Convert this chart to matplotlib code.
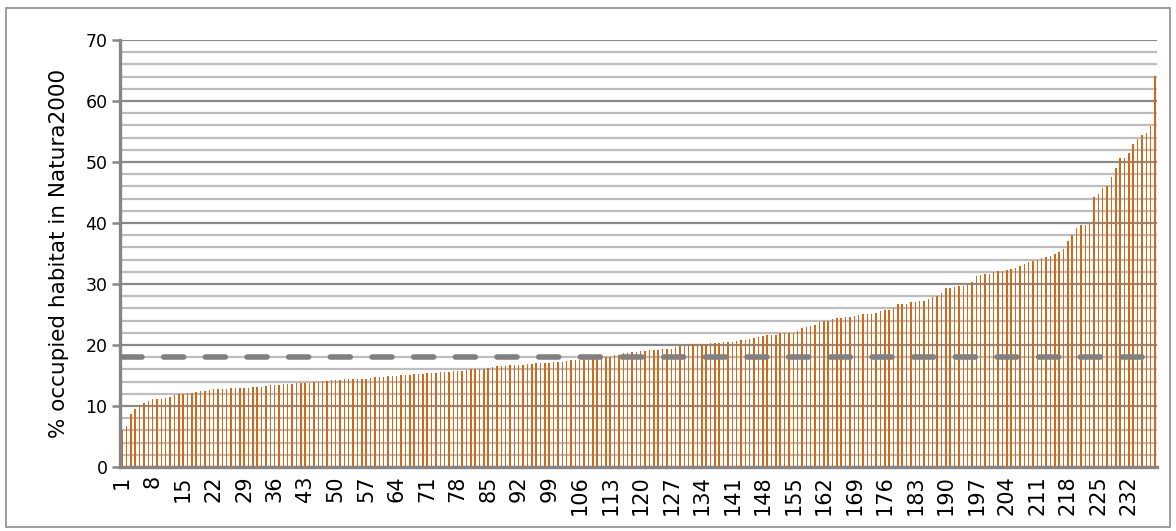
import numpy as np
import matplotlib
matplotlib.use('Agg')
import matplotlib.pyplot as plt
from matplotlib.patches import Rectangle

# sorted share of occupied habitat inside Natura2000, one value per species
pct_natura = [
    6.1, 6.8, 8.7, 9.5, 10.1, 10.5, 10.8, 11.1, 11.1, 11.1,
    11.3, 11.5, 11.8, 11.9, 12.0, 12.1, 12.2, 12.3, 12.4, 12.5,
    12.6, 12.8, 12.8, 12.8, 12.8, 12.9, 12.9, 12.95, 13.0, 13.0,
    13.1, 13.2, 13.2, 13.3, 13.4, 13.4, 13.5, 13.6, 13.6, 13.6,
    13.7, 13.7, 13.8, 13.8, 13.9, 13.9, 14.1, 14.1, 14.2, 14.3,
    14.3, 14.4, 14.4, 14.4, 14.4, 14.5, 14.5, 14.6, 14.7, 14.8,
    14.8, 14.9, 15.0, 15.0, 15.1, 15.1, 15.1, 15.2, 15.2, 15.3,
    15.4, 15.4, 15.4, 15.6, 15.6, 15.6, 15.7, 15.8, 15.8, 15.9,
    16.0, 16.0, 16.1, 16.1, 16.3, 16.4, 16.5, 16.5, 16.6, 16.7,
    16.7, 16.7, 16.8, 16.9, 16.9, 17.0, 17.0, 17.1, 17.1, 17.2,
    17.2, 17.3, 17.4, 17.5, 17.5, 17.6, 17.7, 17.7, 17.8, 17.9,
    17.9, 18.0, 18.1, 18.4, 18.4, 18.7, 18.7, 18.8, 18.9, 19.0,
    19.1, 19.2, 19.2, 19.2, 19.3, 19.3, 19.4, 19.6, 19.8, 19.9,
    20.0, 20.1, 20.2, 20.2, 20.2, 20.3, 20.3, 20.3, 20.5, 20.5,
    20.5, 20.7, 20.8, 20.9, 21.0, 21.1, 21.3, 21.5, 21.6, 21.7,
    21.7, 22.0, 22.0, 22.0, 22.0, 22.3, 22.8, 22.9, 23.1, 23.3,
    23.7, 24.0, 24.0, 24.3, 24.4, 24.5, 24.6, 24.6, 24.7, 24.9,
    25.1, 25.1, 25.1, 25.3, 25.5, 25.7, 25.8, 26.0, 26.7, 26.7,
    26.8, 27.0, 27.0, 27.2, 27.3, 27.5, 27.8, 28.1, 28.5, 29.3,
    29.4, 29.5, 29.6, 29.7, 29.9, 30.4, 31.4, 31.5, 31.6, 31.7,
    31.9, 32.1, 32.2, 32.3, 32.4, 32.6, 33.0, 33.3, 33.6, 33.8,
    34.0, 34.2, 34.4, 34.6, 34.9, 35.3, 35.8, 37.0, 38.0, 39.2,
    39.6, 39.7, 39.8, 44.3, 44.7, 45.8, 46.0, 47.5, 49.1, 50.6,
    50.7, 51.5, 53.0, 53.8, 54.4, 54.7, 55.9, 64.1,
]
species_idx = list(range(1, len(pct_natura) + 1))
tick_labels = [str(i) for i in range(1, 233, 7)]
target_level = 18.0

plt.rcParams['font.family'] = 'DejaVu Sans'

fig = plt.figure(figsize=(11.76, 5.31), dpi=100)
ax = fig.add_axes([0.102, 0.1205, 0.882, 0.804])

# outer chart frame
fig.patches.append(Rectangle((0.005, 0.008), 0.99, 0.977, transform=fig.transFigure,
                             fill=False, edgecolor='#8c8c8c', linewidth=1.2))

ax.bar(species_idx, pct_natura, width=0.34, color='#cf6a1a', zorder=2)

# horizontal reference level
ax.plot([1, len(pct_natura) - 3], [target_level, target_level], color='#808080',
        linewidth=4.0, dashes=(3.6, 3.9), dash_capstyle='round', zorder=3)

ax.set_xlim(0.5, len(pct_natura) + 0.5)
ax.set_ylim(0, 70)
ax.set_yticks(np.arange(0, 71, 10))
ax.set_yticks(np.arange(0, 71, 2), minor=True)
ax.set_xticks([int(t) for t in tick_labels])
ax.set_xticklabels(tick_labels, rotation=90, fontsize=15)
ax.tick_params(axis='y', which='major', labelsize=12.5, length=6, width=1.8,
               color='#868686', pad=3)
ax.tick_params(axis='y', which='minor', length=0)
ax.tick_params(axis='x', length=0, pad=6)

ax.grid(axis='y', which='minor', color='#bdbdbd', linewidth=1.6, zorder=0)
ax.grid(axis='y', which='major', color='#8a8a8a', linewidth=1.6, zorder=0)
ax.set_axisbelow(True)

for side in ['top', 'right']:
    ax.spines[side].set_visible(False)
for side in ['left', 'bottom']:
    ax.spines[side].set_color('#868686')
    ax.spines[side].set_linewidth(2.4)

ax.set_ylabel('% occupied habitat in Natura2000', fontsize=15.5, labelpad=12)

fig.savefig('out.png', dpi=100)
